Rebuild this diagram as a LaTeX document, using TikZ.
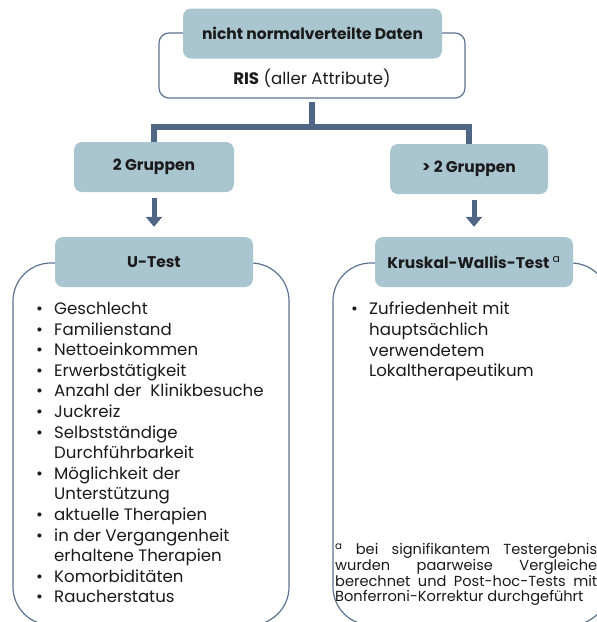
\documentclass[tikz,border=0pt]{standalone}
\usepackage{fontspec}
\setmainfont{Poppins}
\usetikzlibrary{arrows.meta,positioning}

\definecolor{boxfill}{HTML}{A9C5CF}
\definecolor{linecol}{HTML}{5B7491}
\definecolor{conncol}{HTML}{4F6784}
\definecolor{txt}{HTML}{1A1A1A}

\newcommand{\bul}{\makebox[18pt][l]{\textbullet}}
\newcommand{\cont}{\hspace*{18pt}}

\tikzset{
  head/.style={fill=boxfill, rounded corners=8pt, minimum height=50pt, text=txt,
    font=\bfseries\fontsize{15.5}{18}\selectfont},
  frame/.style={draw=linecol, line width=1.2pt},
  conn/.style={draw=conncol, line width=6pt},
  down/.style={draw=conncol, line width=5pt, -{Triangle[width=16pt,length=10pt]}},
  liste/.style={anchor=north west, inner sep=0pt, align=left, text=txt,
    font=\fontsize{16.6}{20.6}\selectfont},
}

\begin{document}
\begin{tikzpicture}[x=1pt,y=-1pt]
\useasboundingbox (0,0) rectangle (597,622);
\clip (0,0) rectangle (597,622);

% Outline boxes (behind the filled heads)
\node[frame, rounded corners=10pt, minimum width=306pt, minimum height=65pt] (ris) at (312,65.5) {};
\draw[frame, rounded corners=38pt] (13,263) rectangle (289,625);
\draw[frame, rounded corners=38pt] (333,263) rectangle (609,625);

% Filled heads
\node[head, minimum width=259pt] (daten) at (312.5,33.5) {nicht normalverteilte Daten};
\node[text=txt, font=\fontsize{16.6}{18}\selectfont] (ristxt) at (312,78) {\textbf{RIS} (aller Attribute)};
\node[head, minimum width=160pt] (zwei) at (154,167) {2 Gruppen};
\node[head, minimum width=158pt] (mehr) at (469,169) {> 2 Gruppen};
\node[head, minimum width=198pt] (utest) at (154,262) {U-Test};
\node[head, minimum width=198pt] (kw) at (474,262) {Kruskal-Wallis-Test \textsuperscript{\mdseries a}};

% Connector from RIS to both groups
\coordinate (bar) at (312,126.5);
\draw[conn] ([yshift=-3pt]ris.south) -- (bar);
\draw[conn] (zwei.north) |- (bar) -| (mehr.north);

% Arrows down to the tests
\path (kw.north |- mehr.south) coordinate (mk);
\draw[down] ([yshift=-6pt]zwei.south) -- ([yshift=10pt]utest.north);
\draw[down] ([yshift=-6pt]mk) -- ([yshift=10pt]kw.north);

% Lists
\node[liste] (uliste) at (36,302) {%
\bul Geschlecht\\
\bul Familienstand\\
\bul Nettoeinkommen\\
\bul Erwerbstätigkeit\\
\bul Anzahl der\ \ Klinikbesuche\\
\bul Juckreiz\\
\bul Selbstständige\\
\cont Durchführbarkeit\\
\bul Möglichkeit der\\
\cont Unterstützung\\
\bul aktuelle Therapien\\
\bul in der Vergangenheit\\
\cont erhaltene Therapien\\
\bul Komorbiditäten\\
\bul Raucherstatus};

\node[liste] (kwliste) at (351,302) {%
\bul Zufriedenheit mit\\
\cont hauptsächlich\\
\cont verwendetem\\
\cont Lokaltherapeutikum};

% Footnote
\node[anchor=north west, inner sep=0pt, text width=262pt, align=justify, text=txt,
  font=\fontsize{14.6}{14.6}\selectfont] (fn) at (335,543) {%
\textsuperscript{a}~bei signifikantem Testergebnis\linebreak
wurden paarweise Vergleiche\linebreak
berechnet und Post-hoc-Tests mit\linebreak
Bonferroni-Korrektur durchgeführt};

\end{tikzpicture}
\end{document}
